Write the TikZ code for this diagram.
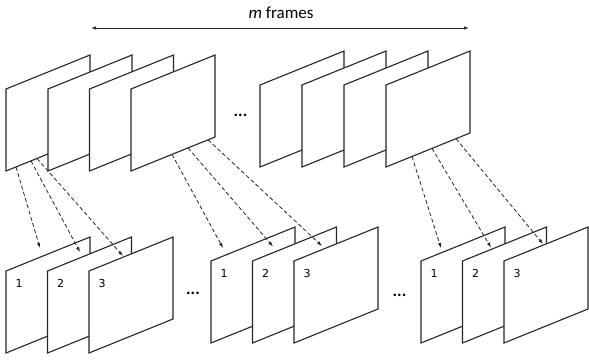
\documentclass[tikz,border=0pt]{standalone}
\usepackage{fontspec}
\usetikzlibrary{arrows.meta}
\newfontfamily\carl{Carlito}
\newfontfamily\dejav{DejaVu Sans}

% one sheet: name, left x, bottom-left y, optional label
\newcommand\framesheet[4]{%
  \coordinate (#1-bl) at (#2,#3);
  \coordinate (#1-tl) at (#2,#3-82);
  \coordinate (#1-tr) at (#2+84,#3-116);
  \coordinate (#1-br) at (#2+84,#3-34);
  \draw[sheet] (#1-bl) -- (#1-tl) -- (#1-tr) -- (#1-br) -- cycle;
  \node[num] (#1-n) at (#2+13,#3-69.5) {#4};
}

\begin{document}
\begin{tikzpicture}[x=1pt,y=-1pt,
  sheet/.style={draw=black!85, fill=white, line width=1.1pt, line join=miter},
  num/.style={font=\dejav\fontsize{11}{13}\selectfont, inner sep=0pt},
  ddd/.style={font=\carl\bfseries\fontsize{17}{20}\selectfont, inner sep=0pt},
  span/.style={draw=black!85, line width=0.8pt, {Latex[length=5pt,width=3.5pt]}-{Latex[length=5pt,width=3.5pt]}},
  link/.style={draw=black!85, line width=0.8pt, dash pattern=on 4pt off 2.5pt, -{Latex[length=5pt,width=3.5pt]}}]
\useasboundingbox (0,0) rectangle (589,359);

% span of the m frames
\coordinate (spanL) at (91,28);
\coordinate (spanR) at (469,28);
\draw[span] (spanL) -- (spanR);
\node[font=\carl\fontsize{17}{20}\selectfont, inner sep=0pt] (mlab) at (281,13) {\textit{m} frames};

% input frames
\framesheet{T1}{6}{171}{}
\framesheet{T2}{48}{171}{}
\framesheet{T3}{89.5}{171}{}
\framesheet{T4}{131}{171}{}
\framesheet{T5}{260}{167}{}
\framesheet{T6}{302}{167}{}
\framesheet{T7}{344}{167}{}
\framesheet{T8}{386}{167}{}
\node[ddd] (tdots) at (240.5,115) {...};

% clips of three frames
\framesheet{B1}{6}{353}{1}
\framesheet{B2}{47.5}{353}{2}
\framesheet{B3}{89}{353}{3}
\framesheet{B4}{211}{343}{1}
\framesheet{B5}{252.5}{343}{2}
\framesheet{B6}{294}{343}{3}
\framesheet{B7}{421}{343}{1}
\framesheet{B8}{462.5}{343}{2}
\framesheet{B9}{504}{343}{3}
\node[ddd] (bdots1) at (193,293) {...};
\node[ddd] (bdots2) at (399.5,295) {...};

% sampling links
\coordinate (s1) at (16,167);    \coordinate (e1) at (40,248);
\coordinate (s2) at (31,161);    \coordinate (e2) at (80,252);
\coordinate (s3) at (37,158.5);  \coordinate (e3) at (123,256);
\coordinate (s4) at (172,154.4); \coordinate (e4) at (223,248);
\coordinate (s5) at (188,147.9); \coordinate (e5) at (273,246.5);
\coordinate (s6) at (208,139.8); \coordinate (e6) at (322,246);
\coordinate (s7) at (412,156.5); \coordinate (e7) at (441,248);
\coordinate (s8) at (432,148.4); \coordinate (e8) at (491,247.5);
\coordinate (s9) at (456,138.7); \coordinate (e9) at (543,244);
\foreach \i in {1,...,9} \draw[link] (s\i) -- (e\i);
\end{tikzpicture}
\end{document}
